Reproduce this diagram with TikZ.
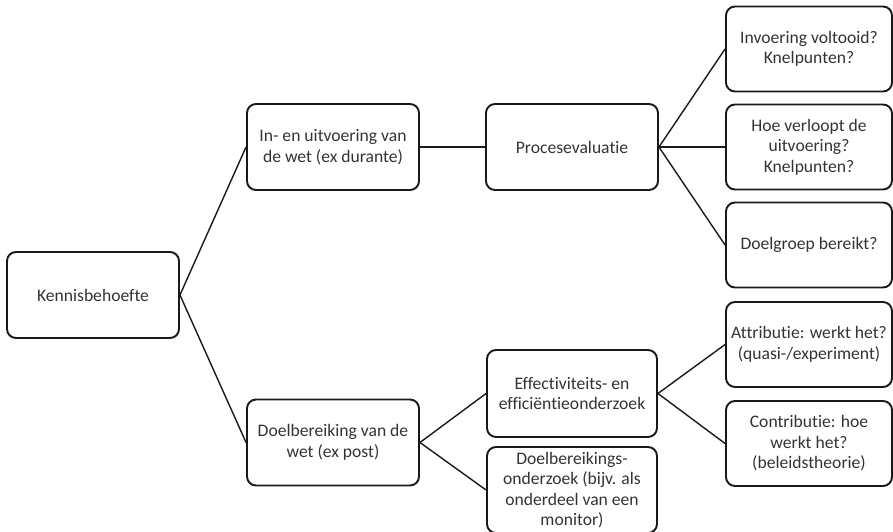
\documentclass[tikz,border=0pt]{standalone}
\usepackage{fontspec}
\setmainfont{Carlito}[Ligatures=NoCommon]
\begin{document}
\begin{tikzpicture}[x=1pt, y=-1pt,
    box/.style = {draw=black!90, line width=1.9pt, rounded corners=9pt, align=center,
      minimum width=172pt, minimum height=86pt, inner sep=1pt, text=black!80,
      font=\fontsize{17.6}{20.5}\selectfont},
    vraag/.style = {box, minimum width=166pt, minimum height=85pt},
    link/.style = {draw=black!90, line width=1.4pt}]
        \useasboundingbox (0,0) rectangle (893,532);
        \node[box] (kennis) at (93,295) {Kennisbehoefte};
        \node[box] (uitvoering) at (333,147) {In- en uitvoering van\\de wet (ex durante)};
        \node[box] (doelbereiking) at (333,442.5) {Doelbereiking van de\\wet (ex post)};
        \node[box] (proces) [node distance=239pt, right of=uitvoering] {Procesevaluatie};
        \node[vraag] (verloop) [node distance=237pt, right of=proces] {Hoe verloopt de\\uitvoering?\\Knelpunten?};
        \node[vraag] (invoering) [node distance=98pt, above of=verloop] {Invoering voltooid?\\Knelpunten?};
        \node[vraag] (doelgroep) [node distance=98pt, below of=verloop] {Doelgroep bereikt?};
        \node[box, minimum width=170pt, minimum height=87pt] (effectiviteit) at (572,393.5) {Effectiviteits- en\\efficiëntieonderzoek};
        \node[box, minimum width=170pt] (onderzoek) [node distance=96.5pt, below of=effectiviteit] {Doelbereikings-\\onderzoek (bijv. als\\onderdeel van een\\monitor)};
        \node[vraag] (attributie) at (809,344.5) {Attributie: werkt het?\\(quasi-/experiment)};
        \node[vraag] (contributie) [node distance=99pt, below of=attributie] {Contributie: hoe\\werkt het?\\(beleidstheorie)};
        %
        \draw[link] (kennis.east) -- (uitvoering.west);
        \draw[link] (kennis.east) -- (doelbereiking.west);
        \draw[link] (uitvoering.east) -- (proces.west);
        \draw[link] (proces.east) -- (invoering.west);
        \draw[link] (proces.east) -- (verloop.west);
        \draw[link] (proces.east) -- (doelgroep.west);
        \draw[link] (doelbereiking.east) -- (effectiviteit.west);
        \draw[link] (doelbereiking.east) -- (onderzoek.west);
        \draw[link] (effectiviteit.east) -- (attributie.west);
        \draw[link] (effectiviteit.east) -- (contributie.west);
      \end{tikzpicture}
\end{document}
